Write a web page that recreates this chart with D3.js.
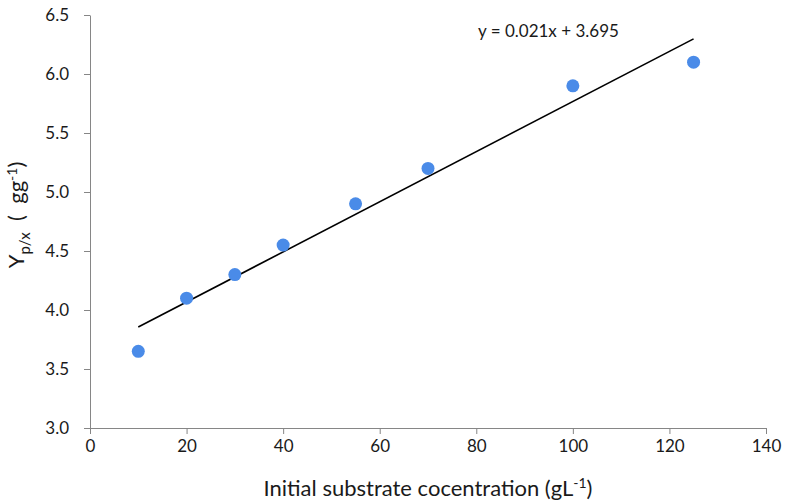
<!DOCTYPE html>
<html>
<head>
<meta charset="utf-8">
<script src="https://cdn.jsdelivr.net/npm/d3@7"></script>
<style>
  body { margin: 0; background: #fff; }
  text { font-family: Lato, "Open Sans", sans-serif; fill: #1a1a1a; }
</style>
</head>
<body>
<svg></svg>
<script>
const substrate = [10, 20, 30, 40, 55, 70, 100, 125];
const yield_px = [3.65, 4.1, 4.3, 4.55, 4.9, 5.2, 5.9, 6.1];
const xTicks = [0, 20, 40, 60, 80, 100, 120, 140];
const yTicks = [3.0, 3.5, 4.0, 4.5, 5.0, 5.5, 6.0, 6.5];
const equationLabel = 'y = 0.021x + 3.695';

const width = 786, height = 503;
const axisColor = '#868686';

let svg = d3.select('svg')
  .attr('width', width)
  .attr('height', height);

let x = d3.scaleLinear().domain([0, 140]).range([90, 766]);
let y = d3.scaleLinear().domain([3.0, 6.5]).range([428, 15]);

// x axis
let xAxis = svg.append('g')
  .attr('transform', 'translate(0,' + y(3.0) + ')')
  .call(d3.axisBottom(x).tickValues(xTicks).tickSize(6).tickSizeOuter(0).tickPadding(6));
xAxis.select('.domain').attr('stroke', axisColor);
xAxis.selectAll('.tick line').attr('stroke', axisColor);
xAxis.selectAll('.tick text')
  .style('font-size', '17px')
  .style('font-family', 'Lato, sans-serif')
  .attr('fill', '#1a1a1a');

// y axis
let yAxis = svg.append('g')
  .attr('transform', 'translate(' + x(0) + ',0)')
  .call(d3.axisLeft(y).tickValues(yTicks).tickFormat(d3.format('.1f')).tickSize(6).tickSizeOuter(0).tickPadding(15));
yAxis.select('.domain').attr('stroke', axisColor);
yAxis.selectAll('.tick line').attr('stroke', axisColor);
yAxis.selectAll('.tick text')
  .style('font-size', '17px')
  .style('font-family', 'Lato, sans-serif')
  .attr('fill', '#1a1a1a');

// least-squares trend line through the points
let mx = d3.mean(substrate), my = d3.mean(yield_px);
let sxy = d3.sum(substrate, (d, i) => (d - mx) * (yield_px[i] - my));
let sxx = d3.sum(substrate, d => (d - mx) * (d - mx));
let slope = sxy / sxx, intercept = my - slope * mx;
let trendRange = d3.extent(substrate);

let lineGenerator = d3.line()
  .x(d => x(d))
  .y(d => y(slope * d + intercept));
svg.append('path')
  .attr('d', lineGenerator(trendRange))
  .attr('stroke', '#000')
  .attr('stroke-width', 1.6)
  .attr('fill', 'none');

// points
svg.selectAll('circle.pt')
  .data(substrate)
  .enter().append('circle')
  .attr('class', 'pt')
  .attr('cx', d => x(d))
  .attr('cy', (d, i) => y(yield_px[i]))
  .attr('r', 6.5)
  .attr('fill', '#4a8be8');

// equation
svg.append('text')
  .attr('x', 478)
  .attr('y', 37)
  .style('font-size', '17px')
  .text(equationLabel);

// x title
let xTitle = svg.append('text')
  .attr('x', 428)
  .attr('y', 496)
  .attr('text-anchor', 'middle')
  .style('font-size', '22px');
xTitle.append('tspan').text('Initial substrate cocentration (gL');
xTitle.append('tspan').attr('dy', -8).style('font-size', '14px').text('-1');
xTitle.append('tspan').attr('dy', 8).text(')');

// y title
let yTitle = svg.append('text')
  .attr('transform', 'translate(24,' + 215 + ') rotate(-90)')
  .attr('text-anchor', 'middle')
  .attr('xml:space', 'preserve')
  .style('white-space', 'pre')
  .style('font-size', '22px');
yTitle.append('tspan').text('Y');
yTitle.append('tspan').attr('dy', 6).style('font-size', '15px').text('p/x');
yTitle.append('tspan').attr('dy', -6).text('  (  gg');
yTitle.append('tspan').attr('dy', -7).style('font-size', '14px').text('-1');
yTitle.append('tspan').attr('dy', 7).text(')');
</script>
</body>
</html>
